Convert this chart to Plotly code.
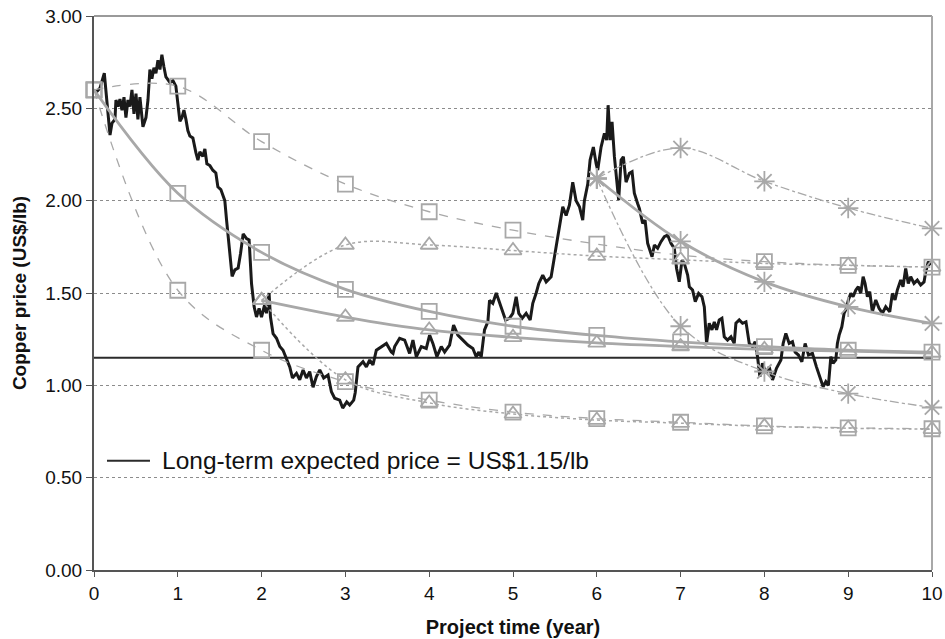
import plotly.graph_objects as go

# ---------------------------------------------------------------------------
# Data
# ---------------------------------------------------------------------------
long_term_price = 1.15

# Simulated copper price path (year, US$/lb)
path_years = [
    0.000, 0.032, 0.072, 0.123, 0.191, 0.215, 0.250, 0.262, 0.286, 0.310, 0.334,
    0.358, 0.381, 0.405, 0.429, 0.453, 0.477, 0.501, 0.524, 0.548, 0.584, 0.620,
    0.644, 0.667, 0.691, 0.715, 0.739, 0.763, 0.787, 0.810, 0.834, 0.858, 0.906,
    0.942, 0.977, 1.001, 1.025, 1.049, 1.073, 1.097, 1.120, 1.144, 1.180, 1.216,
    1.240, 1.263, 1.299, 1.323, 1.347, 1.383, 1.418, 1.454, 1.478, 1.514, 1.549,
    1.561, 1.582, 1.621, 1.648, 1.681, 1.720, 1.749, 1.780, 1.820, 1.851, 1.880,
    1.911, 1.939, 1.970, 1.999, 2.038, 2.058, 2.089, 2.106, 2.137, 2.178, 2.217,
    2.256, 2.297, 2.336, 2.368, 2.416, 2.455, 2.495, 2.535, 2.574, 2.614, 2.654,
    2.694, 2.741, 2.793, 2.833, 2.872, 2.932, 2.968, 3.016, 3.051, 3.099, 3.117,
    3.150, 3.210, 3.250, 3.290, 3.329, 3.369, 3.429, 3.489, 3.548, 3.568, 3.588,
    3.647, 3.707, 3.766, 3.806, 3.846, 3.906, 3.965, 4.005, 4.044, 4.092, 4.144,
    4.184, 4.243, 4.291, 4.342, 4.402, 4.461, 4.521, 4.561, 4.592, 4.621, 4.660,
    4.700, 4.720, 4.759, 4.800, 4.831, 4.871, 4.911, 4.958, 4.998, 5.038, 5.069,
    5.110, 5.157, 5.205, 5.236, 5.277, 5.308, 5.355, 5.396, 5.455, 5.515, 5.554,
    5.594, 5.634, 5.673, 5.713, 5.753, 5.793, 5.832, 5.852, 5.892, 5.920, 5.959,
    5.992, 6.011, 6.051, 6.091, 6.118, 6.135, 6.159, 6.182, 6.210, 6.237, 6.261,
    6.290, 6.317, 6.349, 6.389, 6.421, 6.448, 6.487, 6.508, 6.547, 6.576, 6.607,
    6.635, 6.659, 6.687, 6.726, 6.766, 6.806, 6.845, 6.885, 6.925, 6.952, 6.984,
    7.017, 7.044, 7.084, 7.104, 7.143, 7.175, 7.215, 7.255, 7.283, 7.310, 7.342,
    7.374, 7.402, 7.429, 7.461, 7.493, 7.521, 7.560, 7.601, 7.640, 7.660, 7.700,
    7.739, 7.780, 7.819, 7.858, 7.890, 7.918, 7.946, 7.977, 8.018, 8.057, 8.097,
    8.144, 8.197, 8.224, 8.256, 8.296, 8.335, 8.367, 8.406, 8.447, 8.486, 8.526,
    8.573, 8.621, 8.661, 8.701, 8.733, 8.764, 8.793, 8.820, 8.852, 8.871, 8.892,
    8.924, 8.951, 8.979, 9.002, 9.031, 9.058, 9.091, 9.121, 9.150, 9.178, 9.201,
    9.229, 9.257, 9.288, 9.329, 9.368, 9.408, 9.448, 9.496, 9.527, 9.559, 9.586,
    9.627, 9.654, 9.686, 9.717, 9.746, 9.785, 9.825, 9.865, 9.905, 9.925, 9.956,
    9.985,
]
path_prices = [
    2.60, 2.59, 2.61, 2.69, 2.355, 2.42, 2.44, 2.545, 2.51, 2.55, 2.49,
    2.56, 2.45, 2.545, 2.51, 2.60, 2.47, 2.58, 2.44, 2.56, 2.40, 2.45,
    2.545, 2.71, 2.66, 2.72, 2.69, 2.76, 2.71, 2.79, 2.725, 2.67, 2.64,
    2.65, 2.62, 2.51, 2.43, 2.45, 2.49, 2.44, 2.38, 2.35, 2.34, 2.26,
    2.22, 2.265, 2.24, 2.28, 2.20, 2.19, 2.165, 2.15, 2.075, 2.06, 2.02,
    2.00, 1.895, 1.715, 1.59, 1.625, 1.635, 1.715, 1.82, 1.795, 1.787, 1.55,
    1.425, 1.37, 1.417, 1.37, 1.44, 1.39, 1.50, 1.37, 1.28, 1.255, 1.21,
    1.19, 1.146, 1.10, 1.04, 1.065, 1.03, 1.083, 1.04, 1.074, 0.99, 1.047,
    1.083, 1.04, 1.056, 0.965, 0.93, 0.92, 0.877, 0.91, 0.893, 0.92, 0.96,
    1.10, 1.128, 1.10, 1.137, 1.11, 1.19, 1.21, 1.227, 1.18, 1.173, 1.21,
    1.255, 1.245, 1.173, 1.245, 1.155, 1.21, 1.20, 1.272, 1.227, 1.155, 1.21,
    1.18, 1.218, 1.326, 1.272, 1.245, 1.218, 1.20, 1.155, 1.18, 1.155, 1.30,
    1.344, 1.46, 1.444, 1.50, 1.46, 1.417, 1.354, 1.363, 1.39, 1.48, 1.39,
    1.363, 1.39, 1.354, 1.444, 1.50, 1.552, 1.597, 1.56, 1.588, 1.75, 1.84,
    1.967, 1.92, 1.976, 2.10, 2.00, 1.967, 1.895, 2.00, 2.09, 2.22, 2.29,
    2.20, 2.166, 2.29, 2.364, 2.328, 2.517, 2.328, 2.427, 2.238, 2.13, 2.003,
    2.22, 2.238, 2.10, 2.148, 2.157, 2.04, 1.985, 1.958, 1.877, 1.895, 1.769,
    1.733, 1.696, 1.76, 1.742, 1.778, 1.805, 1.814, 1.769, 1.742, 1.633, 1.561,
    1.678, 1.66, 1.597, 1.534, 1.516, 1.453, 1.498, 1.48, 1.425, 1.227, 1.336,
    1.30, 1.344, 1.30, 1.354, 1.363, 1.263, 1.245, 1.263, 1.227, 1.336, 1.354,
    1.336, 1.344, 1.227, 1.209, 1.236, 1.155, 1.047, 1.119, 1.065, 1.10, 1.029,
    1.092, 1.137, 1.227, 1.281, 1.227, 1.236, 1.18, 1.164, 1.128, 1.227, 1.164,
    1.173, 1.10, 1.047, 0.992, 1.02, 1.00, 1.155, 1.119, 1.137, 1.227, 1.272,
    1.317, 1.39, 1.417, 1.462, 1.498, 1.48, 1.516, 1.534, 1.498, 1.588, 1.552,
    1.48, 1.507, 1.398, 1.462, 1.417, 1.39, 1.425, 1.398, 1.498, 1.462, 1.516,
    1.57, 1.534, 1.633, 1.552, 1.588, 1.552, 1.57, 1.543, 1.56, 1.615, 1.67,
    1.651,
]

# Forecasts made at year 0 (squares)
years_from_0 = [0, 1, 2, 3, 4, 5, 6, 7, 8, 9, 10]
exp_from_0 = [2.60, 2.04, 1.72, 1.52, 1.40, 1.32, 1.27, 1.235, 1.21, 1.19, 1.18]
upper_from_0 = [2.60, 2.62, 2.32, 2.09, 1.94, 1.84, 1.765, 1.705, 1.67, 1.65, 1.64]
lower_from_0 = [2.60, 1.515, 1.19, 1.02, 0.92, 0.855, 0.82, 0.80, 0.78, 0.77, 0.765]

# Forecasts made at year 2 (triangles)
years_from_2 = [2, 3, 4, 5, 6, 7, 8, 9, 10]
exp_from_2 = [1.46, 1.37, 1.30, 1.26, 1.23, 1.21, 1.195, 1.185, 1.175]
upper_from_2 = [1.46, 1.76, 1.76, 1.73, 1.70, 1.68, 1.66, 1.65, 1.64]
lower_from_2 = [1.46, 1.03, 0.905, 0.845, 0.812, 0.795, 0.778, 0.768, 0.762]

# Forecasts made at year 6 (asterisks)
years_from_6 = [6, 7, 8, 9, 10]
exp_from_6 = [2.12, 1.78, 1.56, 1.425, 1.335]
upper_from_6 = [2.12, 2.285, 2.105, 1.96, 1.85]
lower_from_6 = [2.12, 1.32, 1.075, 0.955, 0.88]

x_ticks = [0, 1, 2, 3, 4, 5, 6, 7, 8, 9, 10]
y_ticks = [0.0, 0.5, 1.0, 1.5, 2.0, 2.5, 3.0]
y_tick_text = ["0.00", "0.50", "1.00", "1.50", "2.00", "2.50", "3.00"]

legend_label = f"Long-term expected price = US${long_term_price:.2f}/lb"

# ---------------------------------------------------------------------------
# Styling
# ---------------------------------------------------------------------------
GREY = "#a8a8a8"
DARK = "#1a1a1a"
LT_LINE = "#2b2b2b"
AXIS = "#555555"
FONT = "Liberation Sans, Arial, sans-serif"
NARROW = "Liberation Sans Narrow, Arial Narrow, Liberation Sans, Arial, sans-serif"

fig = go.Figure()

# Long-term expected price
fig.add_trace(go.Scatter(
    x=[0, 10], y=[long_term_price, long_term_price], mode="lines",
    line=dict(color=LT_LINE, width=2),
    name=legend_label, showlegend=False,
))

# Price path
fig.add_trace(go.Scatter(
    x=path_years, y=path_prices, mode="lines",
    line=dict(color=DARK, width=3),
    showlegend=False, hoverinfo="skip",
))


def forecast(xs, ys, dash, symbol, size, width):
    fig.add_trace(go.Scatter(
        x=xs, y=ys, mode="lines+markers",
        line=dict(color=GREY, width=width, dash=dash, shape="spline", smoothing=1.0),
        marker=dict(symbol=symbol, size=size, color=GREY,
                    line=dict(color=GREY, width=1.8)),
        showlegend=False, cliponaxis=False,
    ))


forecast(years_from_0, upper_from_0, "dash", "square-open", 15, 1.3)
forecast(years_from_0, lower_from_0, "dash", "square-open", 15, 1.3)
forecast(years_from_2, upper_from_2, "dot", "triangle-up-open", 15, 1.5)
forecast(years_from_2, lower_from_2, "dot", "triangle-up-open", 15, 1.5)
forecast(years_from_6, upper_from_6, "dashdot", "asterisk-open", 17, 1.3)
forecast(years_from_6, lower_from_6, "dashdot", "asterisk-open", 17, 1.3)
forecast(years_from_0, exp_from_0, "solid", "square-open", 15, 2.8)
forecast(years_from_2, exp_from_2, "solid", "triangle-up-open", 15, 2.8)
forecast(years_from_6, exp_from_6, "solid", "asterisk-open", 17, 2.8)

# Legend key (line sample + label) inside the plot area
LEG_Y = 0.197
fig.add_shape(type="line", xref="paper", yref="paper",
              x0=0.0155, x1=0.0668, y0=LEG_Y, y1=LEG_Y,
              line=dict(color=LT_LINE, width=2))
fig.add_annotation(xref="paper", yref="paper", x=0.0788, y=LEG_Y,
                   xanchor="left", yanchor="middle", showarrow=False,
                   text=legend_label,
                   font=dict(size=24.5, family=FONT, color="#111111"))

fig.update_layout(
    width=945, height=639,
    margin=dict(l=94, r=13, t=16, b=69, autoexpand=False),
    paper_bgcolor="white", plot_bgcolor="white",
    font=dict(family=FONT, color="#111111"),
    showlegend=False,
)
fig.add_shape(type="line", xref="paper", yref="paper", x0=0, x1=1, y0=1, y1=1,
              line=dict(color="#9a9a9a", width=2))
fig.add_shape(type="line", xref="paper", yref="paper", x0=1, x1=1, y0=0, y1=1,
              line=dict(color="#a8a8a8", width=2))

fig.update_xaxes(
    range=[0, 10], tickvals=x_ticks, ticktext=[str(t) for t in x_ticks],
    showline=True, linecolor=AXIS, linewidth=2, mirror=False,
    ticks="outside", ticklen=5, tickcolor=AXIS, tickwidth=1,
    showgrid=False, zeroline=False, automargin=False,
    tickfont=dict(size=19, family=NARROW, color="#111111"),
    title=dict(text="<b>Project time (year)</b>", font=dict(size=20, family=FONT),
               standoff=17),
)
fig.update_yaxes(
    range=[0, 3], tickvals=y_ticks, ticktext=y_tick_text,
    showline=True, linecolor=AXIS, linewidth=2,
    ticks="outside", ticklen=6, tickcolor=AXIS, tickwidth=1,
    showgrid=True, gridcolor="#8c8c8c", gridwidth=1, griddash="dot",
    zeroline=False, automargin=False,
    tickfont=dict(size=19, family=NARROW, color="#111111"),
    title=dict(text="<b>Copper price (US$/lb)</b>", font=dict(size=19, family=FONT),
               standoff=14),
)

fig.write_html("out.html")
